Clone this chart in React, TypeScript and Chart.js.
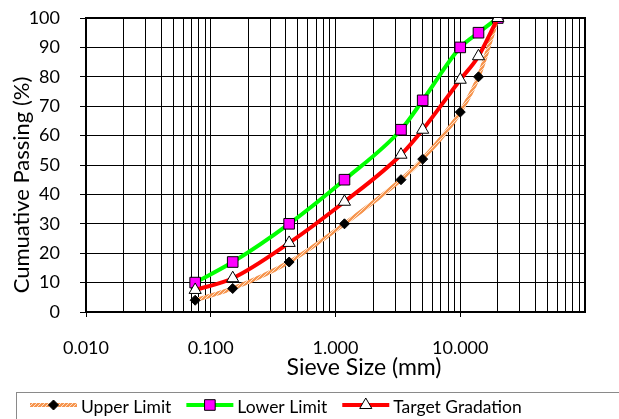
import React, { useEffect, useRef } from 'react';
import { Chart, registerables } from 'chart.js';

Chart.register(...registerables);

// ---- Data ----
const sieveSizes = [0.075, 0.15, 0.425, 1.18, 3.35, 5, 10, 14, 20];
const upperLimit = [4, 8, 17, 30, 45, 52, 68, 80, 100];
const lowerLimit = [10, 17, 30, 45, 62, 72, 90, 95, 100];
const targetGradation = [7.5, 11.5, 23.5, 37.5, 53.5, 62, 79, 87, 100];
const seriesNames = ['Upper Limit', 'Lower Limit', 'Target Gradation'];
const xLabelTicks = [0.01, 0.1, 1, 10];
const xMin = 0.01;
const xMax = 100;
const yMin = 0;
const yMax = 100;
const yStep = 10;
const xTitle = 'Sieve Size (mm)';
const yTitle = 'Cumuative Passing (%)';

const FONT = 'Lato, "Open Sans", sans-serif';

function gridValues(): number[] {
  const out: number[] = [];
  for (let e = Math.round(Math.log10(xMin)); e < Math.round(Math.log10(xMax)); e++) {
    for (let i = 1; i <= 9; i++) out.push(Number((i * Math.pow(10, e)).toPrecision(3)));
  }
  out.push(xMax);
  return out;
}

const isLabelTick = (v: number) => xLabelTicks.some((t) => Math.abs(t - v) < t * 1e-6);

function makeHatch(): CanvasPattern | string {
  const c = document.createElement('canvas');
  c.width = 4;
  c.height = 4;
  const g = c.getContext('2d');
  if (!g) return '#F7A064';
  g.fillStyle = '#F6954F';
  g.fillRect(0, 0, 4, 4);
  g.fillStyle = '#FDE2CC';
  for (let i = 0; i < 4; i++) g.fillRect(i, 3 - i, 1, 1);
  return g.createPattern(c, 'repeat') || '#F7A064';
}

function drawMarker(ctx: CanvasRenderingContext2D, style: string, x: number, y: number, r: number, fill: string, stroke: string) {
  ctx.save();
  ctx.beginPath();
  if (style === 'rectRot') {
    ctx.moveTo(x, y - r);
    ctx.lineTo(x + r, y);
    ctx.lineTo(x, y + r);
    ctx.lineTo(x - r, y);
    ctx.closePath();
  } else if (style === 'rect') {
    const s = r * Math.SQRT1_2;
    ctx.rect(x - s, y - s, 2 * s, 2 * s);
  } else {
    const h = r * 1.5;
    const w = r * Math.sqrt(3) / 2;
    ctx.moveTo(x, y - r);
    ctx.lineTo(x + w, y - r + h);
    ctx.lineTo(x - w, y - r + h);
    ctx.closePath();
  }
  ctx.fillStyle = fill;
  ctx.fill();
  ctx.lineWidth = 1;
  ctx.strokeStyle = stroke;
  ctx.stroke();
  ctx.restore();
}

export default function App() {
  const ref = useRef<HTMLCanvasElement | null>(null);

  useEffect(() => {
    document.body.style.margin = '0';
    const canvas = ref.current;
    if (!canvas) return;
    const hatch = makeHatch();

    const framePlugin = {
      id: 'frame',
      beforeDatasetsDraw(chart: any) {
        const { ctx, chartArea } = chart;
        const { left, top, right, bottom } = chartArea;
        ctx.save();
        ctx.strokeStyle = '#000';
        ctx.lineWidth = 2;
        ctx.strokeRect(left, top, right - left, bottom - top);
        ctx.restore();
      },
    };

    const titlesPlugin = {
      id: 'axisTitles',
      afterDraw(chart: any) {
        const { ctx } = chart;
        ctx.save();
        ctx.fillStyle = '#000';
        ctx.textAlign = 'center';
        ctx.textBaseline = 'middle';
        ctx.font = `23px ${FONT}`;
        ctx.fillText(xTitle, 364, 368);
        ctx.translate(22, 185);
        ctx.rotate(-Math.PI / 2);
        ctx.font = `22px ${FONT}`;
        ctx.fillText(yTitle, 0, 0);
        ctx.restore();
      },
    };

    const legendPlugin = {
      id: 'customLegend',
      afterDraw(chart: any) {
        const { ctx } = chart;
        ctx.save();
        ctx.strokeStyle = '#8a8a8a';
        ctx.lineWidth = 1;
        ctx.strokeRect(16.5, 392.5, 700, 100);
        ctx.font = `17.5px ${FONT}`;
        ctx.fillStyle = '#000';
        ctx.textBaseline = 'alphabetic';
        let x = 30;
        const yMid = 405;
        chart.data.datasets.forEach((ds: any) => {
          const lineLen = 47;
          ctx.beginPath();
          ctx.moveTo(x, yMid);
          ctx.lineTo(x + lineLen, yMid);
          ctx.strokeStyle = ds.borderColor;
          ctx.lineWidth = ds.borderWidth;
          ctx.stroke();
          drawMarker(ctx, ds.pointStyle, x + lineLen / 2, yMid, ds.pointRadius, ds.pointBackgroundColor, ds.pointBorderColor);
          ctx.fillStyle = '#000';
          ctx.fillText(ds.label, x + lineLen + 4, 413);
          x += lineLen + 4 + ctx.measureText(ds.label).width + 15;
        });
        ctx.restore();
      },
    };

    const common = {
      borderWidth: 4,
      pointBorderWidth: 1,
      pointBorderColor: '#000',
      cubicInterpolationMode: 'monotone',
    };

    const chart = new Chart(canvas, {
      type: 'line',
      data: {
        datasets: [
          {
            ...common,
            label: seriesNames[0],
            data: sieveSizes.map((s, i) => ({ x: s, y: upperLimit[i] })),
            borderColor: hatch as any,
            pointStyle: 'rectRot',
            pointRadius: 5,
            pointBackgroundColor: '#000',
            order: 3,
          },
          {
            ...common,
            label: seriesNames[1],
            data: sieveSizes.map((s, i) => ({ x: s, y: lowerLimit[i] })),
            borderColor: '#00FF00',
            pointStyle: 'rect',
            pointRadius: 7.5,
            pointBackgroundColor: '#FF00FF',
            order: 2,
          },
          {
            ...common,
            label: seriesNames[2],
            data: sieveSizes.map((s, i) => ({ x: s, y: targetGradation[i] })),
            borderColor: '#FF0000',
            pointStyle: 'triangle',
            pointRadius: 7,
            pointBackgroundColor: '#FFFFFF',
            order: 1,
          },
        ] as any,
      },
      options: {
        animation: false,
        responsive: false,
        maintainAspectRatio: false,
        devicePixelRatio: 1,
        layout: { padding: { top: 18, right: 34, left: 0, bottom: 0 } },
        plugins: { legend: { display: false }, tooltip: { enabled: false } },
        scales: {
          x: {
            type: 'logarithmic',
            min: xMin,
            max: xMax,
            afterBuildTicks: (scale: any) => {
              scale.ticks = gridValues().map((v) => ({ value: v, major: isLabelTick(v) }));
            },
            afterFit: (scale: any) => {
              scale.height = 107;
              scale.paddingLeft = 0;
              scale.paddingRight = 0;
            },
            ticks: {
              autoSkip: false,
              maxRotation: 0,
              minRotation: 0,
              color: '#000',
              font: { family: FONT, size: 18 },
              padding: 20,
              callback: (v: any) => (isLabelTick(Number(v)) ? Number(v).toFixed(3) : ''),
            },
            grid: {
              color: '#000',
              lineWidth: 1,
              tickLength: 5,
              tickColor: (ctx: any) => (ctx.tick && isLabelTick(ctx.tick.value) ? '#000' : 'rgba(0,0,0,0)'),
            },
            border: { display: true, color: '#000', width: 2 },
            title: { display: false, text: xTitle },
          },
          y: {
            min: yMin,
            max: yMax,
            afterFit: (scale: any) => {
              scale.width = 86;
              scale.paddingTop = 0;
              scale.paddingBottom = 0;
            },
            ticks: {
              stepSize: yStep,
              color: '#000',
              font: { family: FONT, size: 18 },
              padding: 20,
            },
            grid: { color: '#000', lineWidth: 1, tickLength: 6 },
            border: { display: true, color: '#000', width: 2 },
            title: { display: false, text: yTitle },
          },
        },
      } as any,
      plugins: [framePlugin, titlesPlugin, legendPlugin],
    });

    return () => chart.destroy();
  }, []);

  return (
    <div style={{ width: 619, height: 419 }}>
      <canvas ref={ref} width={619} height={419} />
    </div>
  );
}
